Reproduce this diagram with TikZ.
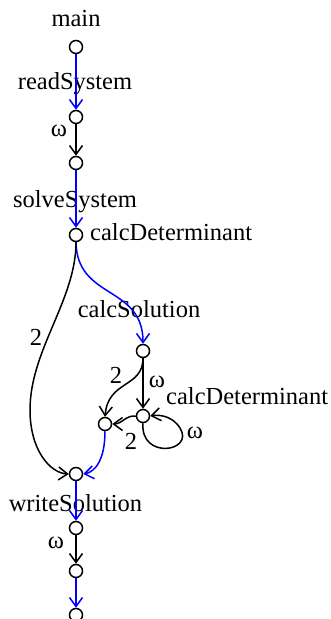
\documentclass[tikz,border=0pt]{standalone}
\usepackage{fontspec}
\setmainfont{Liberation Serif}
\usetikzlibrary{arrows.meta}
\begin{document}
\begin{tikzpicture}[x=1bp,y=-1bp,
  vtx/.style={circle,draw,line width=1.5bp,fill=white,inner sep=0pt,minimum size=13bp},
  lbl/.style={font=\fontsize{24.5bp}{28bp}\selectfont,inner sep=0pt,anchor=base},
  tip/.style={-{Straight Barb[length=9bp,width=13bp,line width=1.5bp]}},
  blu/.style={draw=blue,line width=1.5bp,tip},
  blk/.style={draw=black,line width=1.5bp,tip}]
\useasboundingbox (0,0) rectangle (330,619);
% labels
\node[lbl] (tmain) at (76,27) {main};
\node[lbl] (tread) at (75,90) {readSystem};
\node[lbl] (w1) at (59,137) {ω};
\node[lbl] (tsolve) at (75,207) {solveSystem};
\node[lbl,anchor=base west] (tcd1) at (90,240) {calcDeterminant};
\node[lbl] (tcs) at (139,317) {calcSolution};
\node[lbl] (two1) at (36,345) {2};
\node[lbl] (two2) at (116,383) {2};
\node[lbl] (w2) at (157,387) {ω};
\node[lbl,anchor=base west] (tcd2) at (166,404) {calcDeterminant};
\node[lbl] (two3) at (131,449) {2};
\node[lbl] (w3) at (195,438) {ω};
\node[lbl] (twrite) at (75.5,511) {writeSolution};
\node[lbl] (w4) at (56,548) {ω};
% vertices
\node[vtx] (n1) at (76,47) {};
\node[vtx] (n2) at (76,117) {};
\node[vtx] (n3) at (76,163) {};
\node[vtx] (n4) at (76,235) {};
\node[vtx] (n5) at (143,351) {};
\node[vtx] (n6) at (143,416) {};
\node[vtx] (n7) at (105,424) {};
\node[vtx] (n8) at (76,474) {};
\node[vtx] (n9) at (76,528) {};
\node[vtx] (n10) at (76,571) {};
\node[vtx] (n11) at (76,615) {};
% edges
\draw[blu] (n1) -- (n2);
\draw[blk] (n2) -- (n3);
\draw[blu] (n3) -- (n4);
\draw[blu] (n4.south) .. controls (77,300) and (143,285) .. (n5.north);
\draw[blk] (n4.south) .. controls (76,300) and (30,350) .. (30,410) .. controls (30,450) and (50,473) .. (n8.west);
\draw[blk] (n5) -- (n6);
\draw[blk] (n5.south) .. controls (143,388) and (108,380) .. (n7.north);
\draw[blk] (n6.west) .. controls (126,415) and (122,424) .. (n7.east);
\draw[blk] (n6.south) .. controls (140,460) and (195,452) .. (180,428) .. controls (174,418) and (162,414) .. (n6.east);
\draw[blu] (n7.south) .. controls (105,460) and (95,472) .. (n8.east);
\draw[blu] (n8) -- (n9);
\draw[blk] (n9) -- (n10);
\draw[blu] (n10) -- (n11);
\end{tikzpicture}
\end{document}
